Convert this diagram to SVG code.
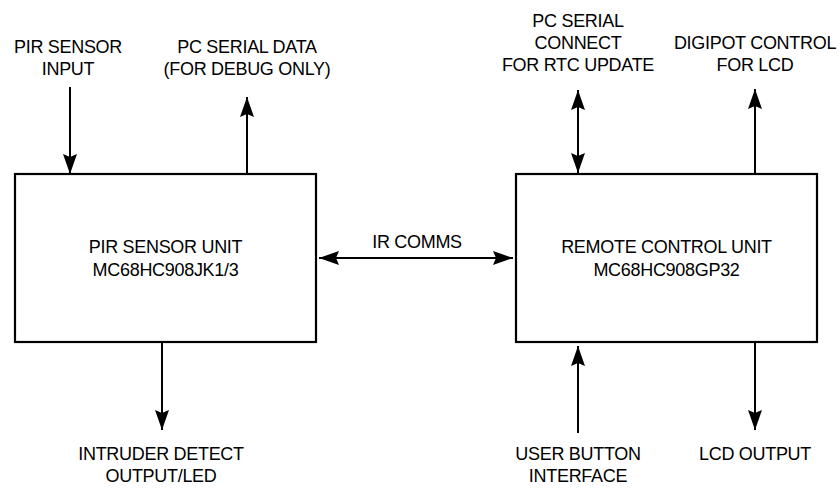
<svg xmlns="http://www.w3.org/2000/svg" width="840" height="490" viewBox="0 0 840 490">
<style>
.box{fill:#fff;stroke:#000;stroke-width:2.2}
.ln{fill:none;stroke:#000;stroke-width:2}
text{font-family:"Liberation Sans",Arial,sans-serif;font-size:18px;letter-spacing:-0.3px;fill:#000;text-anchor:middle}
</style>
<defs>
<marker id="ah" viewBox="0 0 20 14" refX="20" refY="7" markerWidth="20" markerHeight="14" markerUnits="userSpaceOnUse" orient="auto-start-reverse">
<path d="M0,0 L20,7 L0,14 L3,7 Z" fill="#000"/>
</marker>
</defs>
<rect width="840" height="490" fill="#fff"/>
<g id="pir-unit">
<rect class="box" x="15" y="174" width="301" height="168"/>
<text x="165.5" y="252.5">PIR SENSOR UNIT</text>
<text x="165.5" y="275.5">MC68HC908JK1/3</text>
</g>
<g id="remote-unit">
<rect class="box" x="516" y="174" width="301" height="168"/>
<text x="666.5" y="252.5">REMOTE CONTROL UNIT</text>
<text x="666.5" y="275.5">MC68HC908GP32</text>
</g>
<g id="labels">
<text x="68" y="53">PIR SENSOR</text>
<text x="68" y="75">INPUT</text>
<text x="247" y="53">PC SERIAL DATA</text>
<text x="247" y="75">(FOR DEBUG ONLY)</text>
<text x="578" y="27">PC SERIAL</text>
<text x="578" y="49">CONNECT</text>
<text x="578" y="71">FOR RTC UPDATE</text>
<text x="755" y="49">DIGIPOT CONTROL</text>
<text x="755" y="71">FOR LCD</text>
<text x="417" y="248">IR COMMS</text>
<text x="161" y="460">INTRUDER DETECT</text>
<text x="161" y="482">OUTPUT/LED</text>
<text x="578" y="460">USER BUTTON</text>
<text x="578" y="482">INTERFACE</text>
<text x="755" y="460">LCD OUTPUT</text>
</g>
<g id="connectors">
<line class="ln" x1="70" y1="87" x2="70" y2="174" marker-end="url(#ah)"/>
<line class="ln" x1="247" y1="174" x2="247" y2="97" marker-end="url(#ah)"/>
<line class="ln" x1="578" y1="90" x2="578" y2="173" marker-start="url(#ah)" marker-end="url(#ah)"/>
<line class="ln" x1="755" y1="174" x2="755" y2="89" marker-end="url(#ah)"/>
<line class="ln" x1="319" y1="258" x2="513" y2="258" marker-start="url(#ah)" marker-end="url(#ah)"/>
<line class="ln" x1="162" y1="342" x2="162" y2="430" marker-end="url(#ah)"/>
<line class="ln" x1="578" y1="433" x2="578" y2="346" marker-end="url(#ah)"/>
<line class="ln" x1="755" y1="342" x2="755" y2="430" marker-end="url(#ah)"/>
</g>
</svg>
